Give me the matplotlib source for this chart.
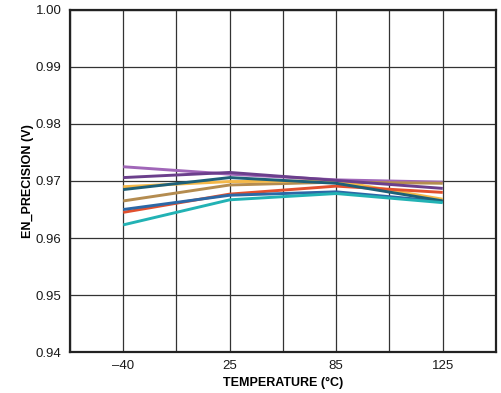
import matplotlib
matplotlib.use('Agg')
import matplotlib.pyplot as plt
import numpy as np

# temperature categories and their slot on the 8-column grid
temps = ['\u201340', '25', '85', '125']
slots = [1, 3, 5, 7]

# EN_PRECISION readings per unit (V)
lt_purple = [0.9725, 0.9712, 0.9702, 0.9698]
dk_purple = [0.9706, 0.9715, 0.9701, 0.9687]
orange    = [0.9690, 0.9699, 0.9700, 0.9668]
dk_teal   = [0.9685, 0.9706, 0.9696, 0.9665]
tan       = [0.9665, 0.9693, 0.9698, 0.9696]
blue      = [0.9650, 0.9675, 0.9681, 0.9664]
red       = [0.9645, 0.9677, 0.9691, 0.9680]
cyan      = [0.9623, 0.9667, 0.9678, 0.9662]

series = [
    (lt_purple, '#a066b8'),
    (tan, '#b48c50'),
    (orange, '#f4b848'),
    (red, '#e2502e'),
    (dk_purple, '#6b3f8c'),
    (blue, '#2c68a6'),
    (dk_teal, '#1d6078'),
    (cyan, '#22b2b4'),
]

plt.rcParams['font.family'] = ['Liberation Sans', 'DejaVu Sans']

fig = plt.figure(figsize=(5.01, 3.93), dpi=100)
ax = fig.add_axes([0.1397, 0.1043, 0.8503, 0.8703])

for vals, c in series:
    ax.plot(slots, vals, color=c, lw=2.1, solid_capstyle='butt')

ax.set_xlim(0, 8)
ax.set_ylim(0.94, 1.00)
ax.set_xticks(range(9))
xl = [''] * 9
for s, t in zip(slots, temps):
    xl[s] = t
ax.set_xticklabels(xl)
ax.set_yticks(np.arange(0.94, 1.001, 0.01))
ax.set_yticklabels(['%.2f' % v for v in np.arange(0.94, 1.001, 0.01)])
ax.tick_params(length=0, labelsize=9.5, colors='#1a1a1a', pad=6)
ax.grid(True, color='#333333', lw=0.9)
ax.set_axisbelow(True)
for sp in ax.spines.values():
    sp.set_linewidth(1.6)
    sp.set_color('#222222')

ax.set_xlabel('TEMPERATURE (\u00b0C)', fontsize=9, fontweight='bold', labelpad=3)
ax.set_ylabel('EN_PRECISION (V)', fontsize=9, fontweight='bold', labelpad=1)

fig.savefig('out.png', dpi=100)
